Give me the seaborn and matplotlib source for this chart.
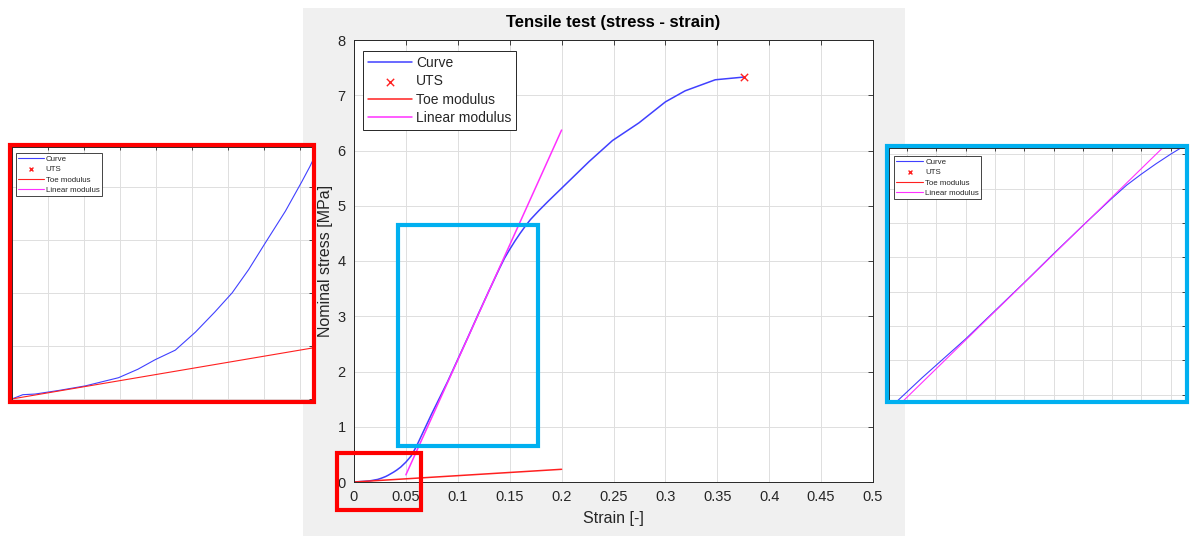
import numpy as np
import pandas as pd
import matplotlib
matplotlib.use("Agg")
import matplotlib.pyplot as plt
from matplotlib.patches import Rectangle
import seaborn as sns

# ---------------- data ----------------
curve_strain = [0.0, 0.0015, 0.0032, 0.0065, 0.0102, 0.0148, 0.0175, 0.0199, 0.0227,
                0.0255, 0.0282, 0.0306, 0.0329, 0.0352, 0.0380, 0.0403, 0.0414,
                0.045, 0.050, 0.055, 0.060, 0.065, 0.070, 0.075, 0.080, 0.085,
                0.090, 0.100, 0.110, 0.120, 0.130, 0.135, 0.140, 0.145, 0.150,
                0.155, 0.160, 0.165, 0.170, 0.178, 0.187, 0.198, 0.2265, 0.249,
                0.2745, 0.300, 0.319, 0.348, 0.376]
curve_stress = [0.0, 0.004, 0.0046, 0.008, 0.0123, 0.020, 0.028, 0.037, 0.046,
                0.063, 0.082, 0.100, 0.122, 0.147, 0.177, 0.205, 0.219,
                0.27, 0.36, 0.47, 0.64, 0.84, 1.04, 1.24, 1.43, 1.62,
                1.81, 2.22, 2.63, 3.05, 3.46, 3.66, 3.86, 4.05, 4.21,
                4.36, 4.50, 4.63, 4.75, 4.91, 5.08, 5.28, 5.80, 6.18,
                6.50, 6.88, 7.08, 7.28, 7.33]
uts_strain = [0.376]
uts_stress = [7.33]
toe_strain = [0.0, 0.2]
toe_stress = [0.0, 0.23]
lin_strain = [0.05, 0.2]
lin_stress = [0.13, 6.37]

labels = ["Curve", "UTS", "Toe modulus", "Linear modulus"]
title = "Tensile test (stress - strain)"
xlabel = "Strain [-]"
ylabel = "Nominal stress [MPa]"
xticks = [0, 0.05, 0.1, 0.15, 0.2, 0.25, 0.3, 0.35, 0.4, 0.45, 0.5]
xticklabels = ["0", "0.05", "0.1", "0.15", "0.2", "0.25", "0.3", "0.35", "0.4", "0.45", "0.5"]
yticks = [0, 1, 2, 3, 4, 5, 6, 7, 8]
toe_xticks = [0, 0.005, 0.01, 0.015, 0.02, 0.025, 0.03, 0.035, 0.04]
toe_yticks = [0, 0.05, 0.1, 0.15, 0.2]
lin_xticks = [0.07, 0.08, 0.09, 0.10, 0.11, 0.12, 0.13, 0.14, 0.15, 0.16]
lin_yticks = [1, 1.5, 2, 2.5, 3, 3.5, 4, 4.5]

# ---------------- style ----------------
sns.set_style("white")
plt.rcParams["font.family"] = ["Liberation Sans", "DejaVu Sans"]

W, H = 1190, 536
fig = plt.figure(figsize=(W / 100, H / 100), dpi=100)
fig.patch.set_facecolor("white")


def rect(l, t, r, b):
    return [l / W, 1 - b / H, (r - l) / W, (b - t) / H]


# grey MATLAB figure background
fig.patches.append(Rectangle((303 / W, 0), (905 - 303) / W, (536 - 8) / H,
                             transform=fig.transFigure, facecolor="#f0f0f0",
                             edgecolor="none", zorder=-10))

C_CURVE = "#4040ff"
C_TOE = "#ff2020"
C_LIN = "#ff30ff"
DARK = "#262626"

df_curve = pd.DataFrame({"strain": curve_strain, "stress": curve_stress})
df_uts = pd.DataFrame({"strain": uts_strain, "stress": uts_stress})
df_toe = pd.DataFrame({"strain": toe_strain, "stress": toe_stress})
df_lin = pd.DataFrame({"strain": lin_strain, "stress": lin_stress})


def draw(ax, lw, ms):
    sns.lineplot(data=df_curve, x="strain", y="stress", ax=ax, color=C_CURVE,
                 lw=lw, sort=False, estimator=None, label=labels[0])
    sns.scatterplot(data=df_uts, x="strain", y="stress", ax=ax, color="#ff2020",
                    marker="x", s=ms, linewidth=1.0, label=labels[1], zorder=5)
    sns.lineplot(data=df_toe, x="strain", y="stress", ax=ax, color=C_TOE,
                 lw=lw, sort=False, estimator=None, label=labels[2])
    sns.lineplot(data=df_lin, x="strain", y="stress", ax=ax, color=C_LIN,
                 lw=lw, sort=False, estimator=None, label=labels[3])
    ax.set_xlabel("")
    ax.set_ylabel("")
    ax.set_facecolor("white")
    ax.grid(True, color="#dedede", lw=0.7)
    ax.set_axisbelow(True)
    for s in ax.spines.values():
        s.set_color(DARK)
        s.set_linewidth(0.7)
    ax.tick_params(direction="in", top=True, right=True, length=3.5,
                   width=0.6, color=DARK, labelcolor=DARK)


def style_legend(leg, lw):
    leg.get_frame().set_edgecolor(DARK)
    leg.get_frame().set_linewidth(lw)


# ---------------- main axes ----------------
ax = fig.add_axes(rect(354, 40, 873, 482))
draw(ax, 1.1, 28)
ax.set_xticks(xticks)
ax.set_xticklabels(xticklabels)
ax.set_yticks(yticks)
ax.set_xlim(0, 0.5)
ax.set_ylim(0, 8)
ax.tick_params(labelsize=10.5, pad=6)
ax.set_title(title, fontsize=12, fontweight="bold", color="black", pad=9)
ax.set_xlabel(xlabel, fontsize=11.5, color=DARK, labelpad=5)
ax.set_ylabel(ylabel, fontsize=11.5, color=DARK, labelpad=3)
leg = ax.legend(loc="upper left", bbox_to_anchor=(9 / 519, 1 - 11 / 442),
                borderaxespad=0, fontsize=10, handlelength=3.2,
                handletextpad=0.25, labelspacing=0.32, borderpad=0.35,
                fancybox=False, framealpha=1)
style_legend(leg, 0.7)

# ---------------- left inset (toe region) ----------------
axl = fig.add_axes(rect(12, 147, 312, 400))
draw(axl, 0.8, 8)
axl.set_xticks(toe_xticks)
axl.set_yticks(toe_yticks)
axl.set_xticklabels([])
axl.set_yticklabels([])
axl.set_xlim(0, 0.0417)
axl.set_ylim(-0.001, 0.2375)
axl.tick_params(length=2.5)
legl = axl.legend(loc="upper left", bbox_to_anchor=(4 / 300, 1 - 6 / 253),
                  borderaxespad=0, fontsize=5.7, handlelength=3.2,
                  handletextpad=0.25, labelspacing=0.35, borderpad=0.3,
                  fancybox=False, framealpha=1)
style_legend(legl, 0.6)

# ---------------- right inset (linear region) ----------------
axr = fig.add_axes(rect(889, 148, 1185, 400))
draw(axr, 0.8, 8)
axr.set_xticks(lin_xticks)
axr.set_yticks(lin_yticks)
axr.set_xticklabels([])
axr.set_yticklabels([])
axr.set_xlim(0.0638, 0.1649)
axr.set_ylim(0.92, 4.59)
axr.tick_params(length=2.5)
legr = axr.legend(loc="upper left", bbox_to_anchor=(5 / 296, 1 - 8 / 252),
                  borderaxespad=0, fontsize=5.7, handlelength=3.4,
                  handletextpad=0.25, labelspacing=0.35, borderpad=0.3,
                  fancybox=False, framealpha=1)
style_legend(legr, 0.6)


# ---------------- highlight frames ----------------
def frame(l, t, r, b, color):
    fig.patches.append(Rectangle((l / W, 1 - b / H), (r - l) / W, (b - t) / H,
                                 transform=fig.transFigure, facecolor="none",
                                 edgecolor=color, lw=3.0, zorder=20))


RED = "#ff0000"
BLUE = "#00b0f0"
frame(10, 145, 314, 402, RED)
frame(887, 146, 1187, 402, BLUE)
frame(337, 453, 421, 510, RED)
frame(398, 225, 538, 446, BLUE)

fig.savefig("out.png", dpi=100)
